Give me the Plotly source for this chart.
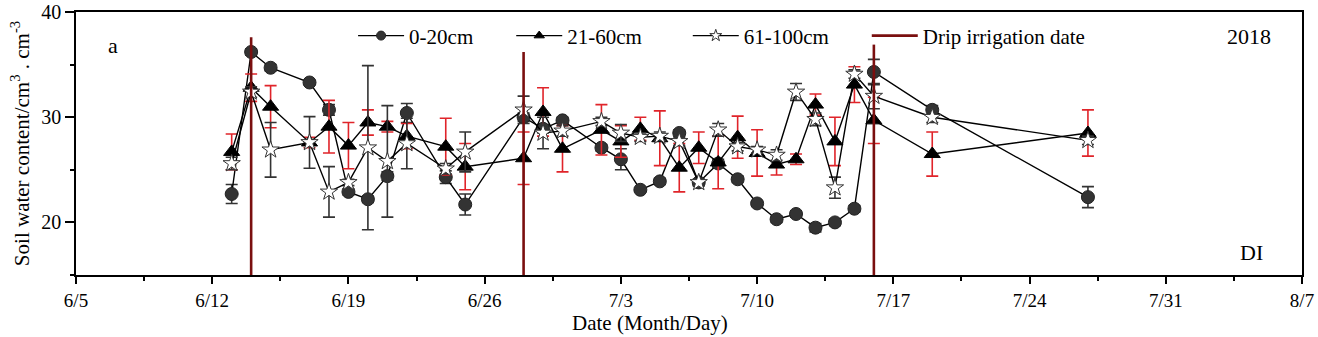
import plotly.graph_objects as go

# ---------------- data ----------------
dates = ["2018-06-13", "2018-06-14", "2018-06-15", "2018-06-17", "2018-06-18", "2018-06-19",
         "2018-06-20", "2018-06-21", "2018-06-22", "2018-06-24", "2018-06-25", "2018-06-28",
         "2018-06-29", "2018-06-30", "2018-07-02", "2018-07-03", "2018-07-04", "2018-07-05",
         "2018-07-06", "2018-07-07", "2018-07-08", "2018-07-09", "2018-07-10", "2018-07-11",
         "2018-07-12", "2018-07-13", "2018-07-14", "2018-07-15", "2018-07-16", "2018-07-19",
         "2018-07-27"]

swc_0_20 = [22.7, 36.2, 34.7, 33.3, 30.7, 22.9, 22.2, 24.4, 30.4, 24.3, 21.7, 30.0, 28.9, 29.7,
            27.1, 26.0, 23.1, 23.9, 28.5, 23.8, 25.6, 24.1, 21.8, 20.3, 20.8, 19.5, 20.0, 21.3,
            34.3, 30.7, 22.4]
err_0_20 = [0.9, 0.3, 0.3, 0.2, 0.5, 0.3, 0.3, 0.4, 0.9, 0.6, 1.0, 0.4, 0.4, 0.3, 0.3, 1.0,
            0.2, 0.3, 0.3, 0.3, 0.4, 0.3, 0.2, 0.3, 0.3, 0.4, 0.3, 0.3, 1.2, 0.4, 1.0]

swc_21_60 = [26.7, 32.8, 31.0, 27.6, 29.1, 27.3, 29.5, 29.1, 28.2, 27.2, 25.3, 26.1, 30.5, 27.0,
             28.8, 27.7, 28.9, 28.0, 25.2, 27.1, 25.7, 28.1, 26.6, 25.5, 26.0, 31.2, 27.7, 33.1,
             29.7, 26.5, 28.5]
err_21_60 = [1.7, 1.3, 2.0, 0.5, 2.5, 2.2, 1.2, 0.5, 1.2, 2.7, 2.2, 2.5, 2.3, 2.2, 2.4, 1.5,
             1.1, 2.6, 2.3, 1.5, 2.5, 2.0, 2.2, 1.0, 0.5, 1.0, 2.3, 1.7, 2.2, 2.1, 2.2]

swc_61_100 = [25.6, 32.4, 26.9, 27.6, 22.9, 23.8, 27.1, 25.8, 27.5, 25.1, 26.7, 30.7, 28.5, 28.7,
              29.6, 28.5, 28.1, 28.2, 27.7, 23.8, 28.8, 27.2, 26.9, 26.4, 32.4, 29.8, 23.3, 34.1,
              32.0, 30.0, 27.8]
err_61_100 = [0.6, 0.5, 2.6, 2.45, 2.4, 0.3, 7.8, 5.3, 2.4, 0.5, 1.9, 1.3, 1.5, 0.5, 0.4, 0.8,
              0.4, 0.4, 0.4, 0.3, 0.6, 0.4, 0.3, 0.5, 0.8, 0.6, 1.0, 0.4, 1.2, 0.5, 0.4]

irrigation_dates = ["2018-06-14", "2018-06-28", "2018-07-16"]
irrigation_tops = [37.6, 36.2, 36.9]
y_bottom = 15

x_range = ["2018-06-05", "2018-08-07"]
y_range = [15, 40]

# ---------------- figure ----------------
FONT = "Liberation Serif, Times New Roman, serif"
fig = go.Figure()

def series(name, y, err, symbol, size, fill, outline, ecolor, legend):
    fig.add_trace(go.Scatter(
        x=dates, y=y, name=name, mode="lines+markers", showlegend=False,
        line=dict(color="black", width=1.4),
        marker=dict(symbol=symbol, size=size, color=fill, line=dict(color=outline, width=1)),
        error_y=dict(type="data", array=err, visible=True, color=ecolor, thickness=1.6, width=6),
    ))
    # legend entry (small symbol, thin line, as in the reference legend)
    fig.add_trace(go.Scatter(
        x=[None], y=[None], name=name, mode="lines+markers", legend=legend,
        line=dict(color="black", width=1.4),
        marker=dict(symbol=symbol, size=9, color=fill, line=dict(color=outline, width=1)),
    ))

series("0-20cm", swc_0_20, err_0_20, "circle", 13, "#333333", "#222222", "#333333", "legend")
series("21-60cm", swc_21_60, err_21_60, "triangle-up", 14, "black", "black", "#e0242a", "legend2")
series("61-100cm", swc_61_100, err_61_100, "star", 13, "white", "#333333", "#333333", "legend3")

ix, iy = [], []
for d, t in zip(irrigation_dates, irrigation_tops):
    ix += [d, d, None]
    iy += [y_bottom, t, None]
fig.add_trace(go.Scatter(x=ix, y=iy, mode="lines", name="Drip irrigation date",
                         line=dict(color="#7a0f0f", width=2.6), legend="legend4"))

leg_common = dict(orientation="h", yanchor="middle", y=0.909, xanchor="left",
                  font=dict(family=FONT, size=21, color="black"),
                  bgcolor="rgba(0,0,0,0)", itemwidth=46, itemsizing="trace")
fig.update_layout(
    width=1318, height=337,
    margin=dict(l=76, r=16, t=12, b=62, autoexpand=False),
    paper_bgcolor="white", plot_bgcolor="white",
    font=dict(family=FONT, size=20, color="black"),
    showlegend=True,
    legend=dict(leg_common, x=0.226),
    legend2=dict(leg_common, x=0.355),
    legend3=dict(leg_common, x=0.499),
    legend4=dict(leg_common, x=0.645),
    xaxis=dict(
        type="date", range=x_range, tick0="2018-06-05", dtick=7 * 86400000,
        tickformat="%-m/%-d", ticks="outside", ticklen=7, tickwidth=1.5, tickcolor="black",
        showline=True, linecolor="black", linewidth=1.5, mirror=True, showgrid=False,
        zeroline=False, tickfont=dict(family=FONT, size=19), automargin=False,
        minor=dict(ticks="outside", ticklen=4, tickwidth=1.5, tickcolor="black",
                   dtick=3.5 * 86400000, tick0="2018-06-05", showgrid=False),
    ),
    yaxis=dict(
        range=y_range, tick0=0, dtick=10, ticks="outside", ticklen=9, tickwidth=1.5,
        tickcolor="black", showline=True, linecolor="black", linewidth=1.5, mirror=True,
        showgrid=False, zeroline=False, tickfont=dict(family=FONT, size=20), automargin=False,
        minor=dict(ticks="outside", ticklen=4, tickwidth=1.5, tickcolor="black", dtick=5,
                   showgrid=False),
        title=dict(text="Soil water content/cm<sup>3</sup> . cm<sup>-3</sup>",
                   font=dict(family=FONT, size=21), standoff=6),
    ),
    annotations=[
        dict(text="Date (Month/Day)", xref="paper", yref="paper", x=0.468, y=-0.181,
             showarrow=False, xanchor="center", yanchor="middle",
             font=dict(family=FONT, size=21)),
        dict(text="a", xref="paper", yref="paper", x=0.0302, y=0.874, showarrow=False,
             xanchor="center", yanchor="middle", font=dict(family=FONT, size=22)),
        dict(text="2018", xref="paper", yref="paper", x=0.957, y=0.905, showarrow=False,
             xanchor="center", yanchor="middle", font=dict(family=FONT, size=22)),
        dict(text="DI", xref="paper", yref="paper", x=0.959, y=0.087, showarrow=False,
             xanchor="center", yanchor="middle", font=dict(family=FONT, size=22)),
    ],
)

fig.write_html("out.html")
